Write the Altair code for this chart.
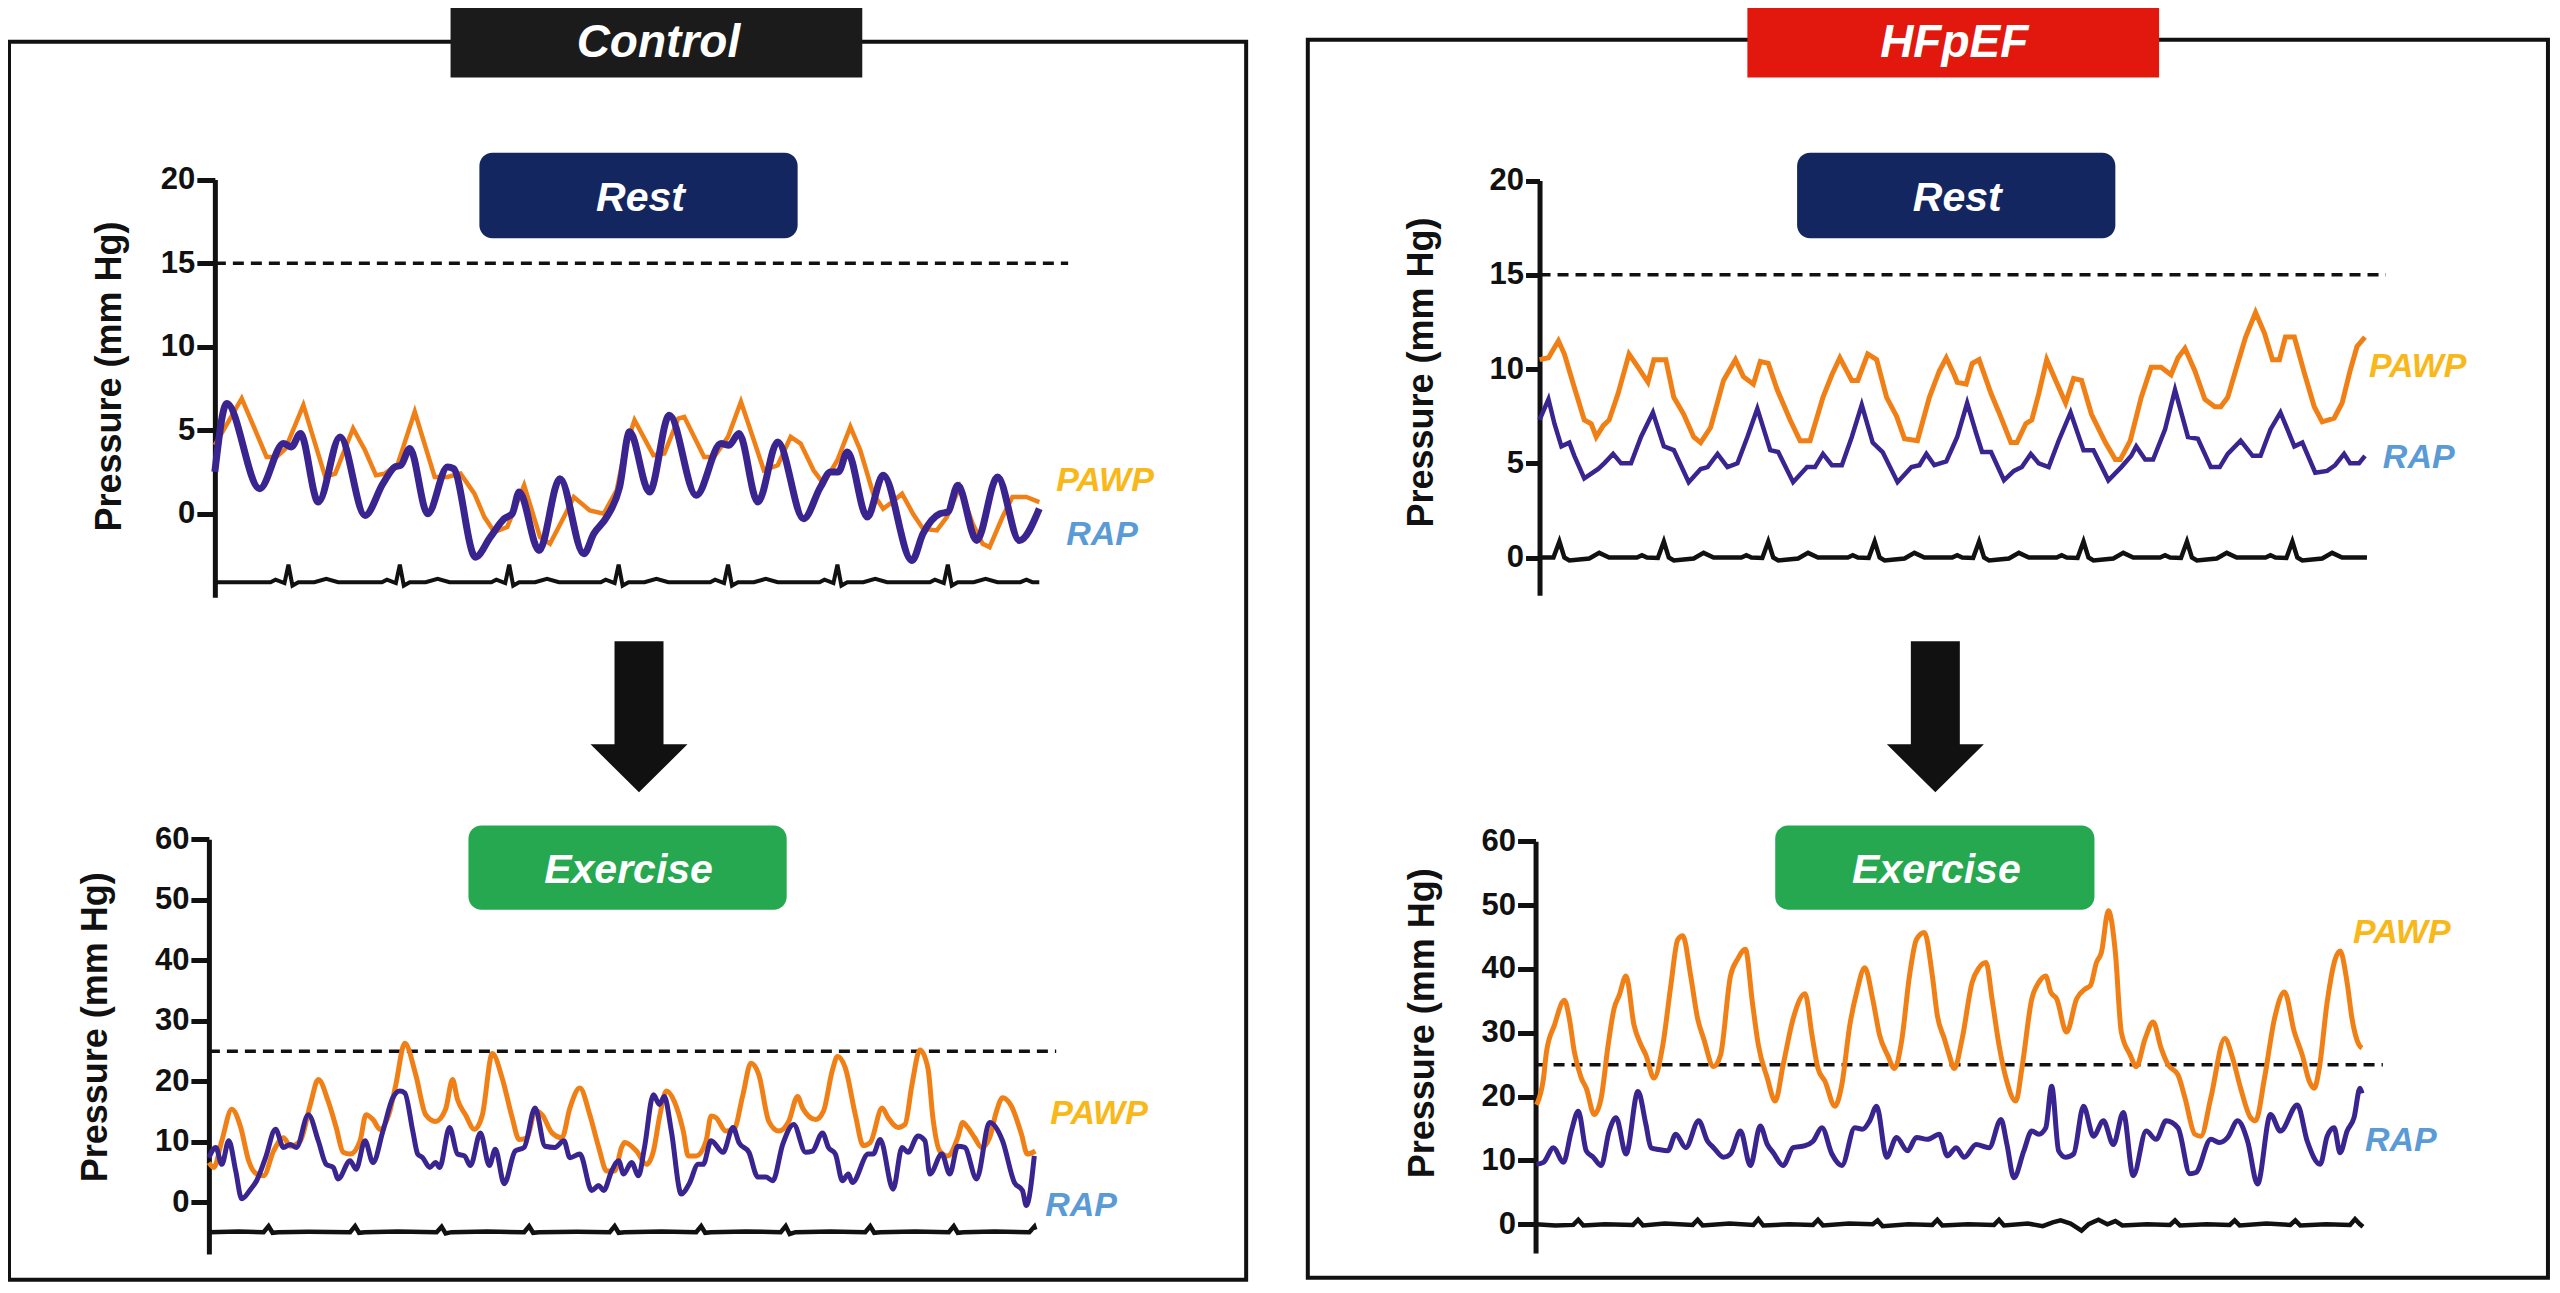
import altair as alt
import pandas as pd

# ---------------- DATA ----------------
# (t, p): t = position along the recording (trace samples), p = pressure in mm Hg

# Control - Rest
CR_PAWP = [(0,4.1),(27,6.9),(52,3.4),(62,3.4),(71,3.9),(89,6.5),(111,2.2),(121,2.4),(139,5.1),(151,3.8),
           (162,2.3),(171,2.4),(184,3.0),(201,6.1),(221,2.2),(234,2.2),(247,2.4),(261,1.2),(271,-0.2),(281,-1.1),
           (294,-0.8),(311,1.7),(327,-1.4),(337,-1.8),(351,-0.2),(361,1.0),(377,0.2),(391,0.0),(404,1.4),(413,4.0),
           (422,5.6),(441,3.5),(452,3.6),(466,5.7),(472,5.8),(492,3.4),(502,3.4),(516,4.6),(529,6.7),(542,4.4),
           (552,2.6),(566,2.9),(579,4.6),(589,4.2),(602,2.6),(612,1.8),(626,3.2),(639,5.2),(649,3.8),(662,1.2),
           (672,0.3),(679,0.6),(691,1.2),(702,0.0),(712,-0.9),(726,-1.0),(736,-0.2),(749,1.6),(762,-0.6),(772,-1.8),
           (779,-2.0),(792,-0.2),(802,1.0),(816,1.0),(829,0.7)]
CR_RAP = [(0,2.5),(12,6.6),(45,1.5),(69,4.2),(77,4.0),(86,4.8),(104,0.7),(126,4.6),(151,-0.1),(169,1.8),
          (181,2.8),(187,2.9),(196,3.9),(214,0.0),(234,2.8),(240,2.7),(262,-2.6),(277,-1.4),(291,-0.3),(299,0.0),
          (306,1.3),(326,-2.2),(347,2.1),(371,-2.4),(381,-1.2),(394,-0.2),(407,1.6),(417,4.9),(437,1.3),(457,5.9),
          (484,1.1),(509,4.2),(517,4.1),(527,4.8),(546,0.7),(566,4.3),(592,-0.3),(609,1.6),(619,2.5),(627,2.5),
          (636,3.7),(656,-0.2),(672,2.3),(701,-2.8),(712,-1.2),(729,0.0),(737,0.1),(747,1.7),(766,-1.6),(787,2.2),
          (809,-1.6),(829,0.3)]
CR_ECG = [(0,-4.1),(56,-4.1),(61,-3.95),(70,-4.15),(74,-3.05),(78,-4.3),(84,-4.1),(100,-4.1),(112,-3.9),(124,-4.1),
          (168,-4.1),(173,-3.95),(182,-4.15),(186,-3.05),(190,-4.3),(196,-4.1),(212,-4.1),(224,-3.9),(236,-4.1),
          (278,-4.1),(283,-3.95),(292,-4.15),(296,-3.05),(300,-4.3),(306,-4.1),(322,-4.1),(334,-3.9),(346,-4.1),
          (388,-4.1),(393,-3.95),(402,-4.15),(406,-3.05),(410,-4.3),(416,-4.1),(432,-4.1),(444,-3.9),(456,-4.1),
          (498,-4.1),(503,-3.95),(512,-4.15),(516,-3.05),(520,-4.3),(526,-4.1),(542,-4.1),(554,-3.9),(566,-4.1),
          (608,-4.1),(613,-3.95),(622,-4.15),(626,-3.05),(630,-4.3),(636,-4.1),(652,-4.1),(664,-3.9),(676,-4.1),
          (719,-4.1),(724,-3.95),(733,-4.15),(737,-3.05),(741,-4.3),(747,-4.1),(763,-4.1),(775,-3.9),(787,-4.1),
          (810,-4.1),(816,-3.95),(822,-4.1),(829,-4.1)]

# Control - Exercise
CE_PAWP = [(0,6.6),(5,5.8),(13,10.2),(23,15.4),(32,12.4),(40,6.9),(48,4.7),(55,4.4),(65,8.5),(75,10.7),
           (82,9.3),(92,10.2),(102,16.2),(110,20.3),(120,16.7),(128,12.4),(135,8.3),(142,8.0),(152,10.2),(158,14.5),
           (165,13.7),(172,12.1),(182,15.1),(188,19.5),(197,26.3),(208,21.1),(218,14.5),(228,13.4),(238,15.4),(245,20.3),
           (250,17.0),(258,14.5),(267,12.1),(275,14.5),(285,24.6),(295,20.5),(305,14.0),(312,10.4),(320,10.7),(328,15.1),
           (335,14.5),(345,11.5),(355,10.7),(363,15.6),(373,18.9),(383,14.5),(392,9.1),(400,5.2),(408,5.2),(415,9.1),
           (418,9.9),(430,8.5),(440,6.3),(447,8.5),(453,14.0),(460,18.4),(468,16.7),(477,11.8),(482,7.7),(490,7.7),
           (500,10.2),(505,14.3),(510,14.0),(520,11.8),(528,12.1),(537,17.8),(545,23.0),(553,21.1),(563,13.4),(573,11.8),
           (583,13.4),(592,17.5),(597,15.6),(610,13.7),(618,15.1),(627,21.9),(632,24.1),(640,22.2),(650,14.5),(658,9.4),
           (665,9.9),(677,15.6),(683,14.0),(693,12.4),(700,12.9),(707,19.5),(715,25.2),(723,22.2),(728,14.0),(735,8.5),
           (743,7.7),(753,10.7),(758,13.2),(763,12.4),(770,10.7),(777,9.1),(785,10.7),(792,15.1),(798,17.3),(807,15.9),
           (817,11.3),(823,8.0),(831,8.5)]
CE_RAP = [(0,7.4),(7,9.1),(13,6.3),(20,10.2),(27,5.2),(33,0.6),(42,2.2),(48,3.6),(57,7.4),(67,12.1),
          (75,9.1),(82,9.6),(88,9.1),(100,14.5),(110,10.2),(118,6.3),(125,5.8),(130,3.9),(142,6.9),(148,5.5),
          (157,10.2),(165,6.6),(175,11.8),(185,17.3),(192,18.4),(197,18.1),(205,11.8),(210,8.0),(215,7.4),(222,5.8),
          (228,6.6),(232,5.8),(242,12.4),(250,8.0),(257,7.7),(263,6.1),(273,11.5),(282,6.1),(288,8.8),(297,3.1),
          (308,8.5),(317,9.1),(328,15.6),(338,9.3),(348,9.1),(357,10.2),(363,7.4),(373,8.0),(385,2.0),(392,2.8),
          (397,2.0),(405,5.2),(412,6.9),(417,4.7),(425,6.6),(432,4.4),(438,9.1),(447,17.8),(453,16.2),(458,17.5),
          (465,11.8),(475,1.4),(483,3.1),(492,6.3),(497,6.3),(505,10.2),(517,8.3),(527,12.4),(533,9.9),(543,8.3),
          (552,4.2),(560,4.2),(567,3.6),(577,9.6),(588,12.9),(600,8.3),(607,8.5),(617,11.5),(623,9.1),(630,8.0),
          (637,3.6),(643,4.7),(647,3.3),(663,8.0),(668,8.0),(675,10.4),(688,2.2),(697,9.1),(703,8.3),(713,11.0),
          (720,10.2),(725,4.7),(737,8.0),(745,4.7),(753,9.3),(760,9.1),(772,3.9),(785,13.2),(798,10.2),(810,3.3),
          (818,2.0),(822,-0.5),(830,7.7)]
CE_ECG = [(0,-4.9),(30,-4.8),(55,-4.9),(60,-3.9),(64,-5.0),(70,-4.9),(100,-4.85),(142,-4.9),(147,-3.9),(151,-5.0),
          (157,-4.9),(190,-4.8),(229,-4.9),(234,-4.0),(238,-5.1),(244,-4.9),(280,-4.8),(317,-4.9),(322,-3.9),(326,-5.0),
          (332,-4.9),(370,-4.85),(403,-4.9),(408,-3.9),(412,-5.0),(418,-4.9),(455,-4.8),(490,-4.9),(495,-3.9),(499,-5.0),
          (505,-4.9),(540,-4.8),(575,-4.9),(580,-3.9),(584,-5.2),(590,-4.9),(625,-4.8),(660,-4.9),(665,-3.9),(669,-5.0),
          (675,-4.9),(710,-4.8),(744,-4.9),(749,-3.9),(753,-5.0),(759,-4.9),(790,-4.8),(825,-4.9),(830,-4.0),(831,-4.5)]

# HFpEF - Rest
HR_PAWP = [(0,10.5),(9,10.6),(19,11.5),(25,10.8),(34,9.2),(45,7.3),(52,7.1),(57,6.4),(64,7.0),(70,7.3),
           (79,8.7),(90,10.8),(99,10.1),(109,9.3),(115,10.5),(127,10.5),(135,8.5),(145,7.6),(155,6.4),(162,6.1),
           (172,6.9),(185,9.4),(197,10.5),(205,9.6),(215,9.2),(222,10.4),(230,10.3),(239,8.9),(252,7.3),(262,6.2),
           (272,6.2),(285,8.5),(294,9.7),(302,10.6),(314,9.4),(320,9.4),(330,10.8),(339,10.5),(349,8.5),(359,7.5),
           (367,6.3),(380,6.2),(392,8.5),(402,9.9),(409,10.6),(417,9.7),(420,9.3),(429,9.2),(435,10.3),(442,10.5),
           (454,8.7),(462,7.7),(474,6.1),(480,6.1),(489,7.1),(495,7.3),(502,8.7),(510,10.5),(519,9.4),(529,8.2),
           (537,9.5),(545,9.4),(555,7.6),(569,6.1),(579,5.2),(584,5.2),(594,6.2),(605,8.5),(615,10.1),(625,10.1),
           (635,9.7),(642,10.6),(649,11.1),(659,9.9),(669,8.4),(679,8.0),(685,8.0),(692,8.5),(702,10.3),(710,11.7),
           (720,13.0),(729,11.9),(737,10.5),(744,10.5),(750,11.7),(759,11.7),(769,9.8),(779,8.0),(787,7.2),(799,7.4),
           (807,8.2),(815,9.9),(822,11.2),(830,11.7)]
HR_RAP = [(0,7.3),(9,8.4),(15,7.1),(22,5.9),(30,6.1),(35,5.4),(45,4.2),(59,4.7),(65,5.0),(74,5.5),
          (82,5.0),(92,5.0),(102,6.4),(114,7.7),(125,5.9),(135,5.7),(150,4.0),(162,4.7),(169,4.8),(179,5.5),
          (189,4.8),(199,5.0),(209,6.4),(219,7.9),(232,5.7),(240,5.6),(255,4.0),(269,4.8),(277,4.8),(285,5.5),
          (294,4.9),(304,4.9),(314,6.4),(324,8.1),(335,6.1),(345,5.6),(360,4.0),(374,4.8),(382,4.9),(389,5.5),
          (397,4.9),(409,5.1),(420,6.4),(430,8.2),(439,6.6),(445,5.6),(454,5.6),(467,4.1),(477,4.6),(485,4.8),
          (494,5.5),(502,5.0),(512,4.8),(522,6.2),(534,7.7),(547,5.7),(557,5.7),(572,4.1),(585,4.8),(595,5.4),
          (600,5.9),(609,5.2),(617,5.2),(629,6.8),(639,8.9),(652,6.4),(662,6.3),(675,4.8),(684,4.8),(692,5.5),
          (705,6.2),(717,5.4),(725,5.4),(735,6.8),(745,7.7),(759,5.9),(767,6.1),(780,4.5),(792,4.6),(800,4.9),
          (809,5.5),(815,5.0),(824,5.0),(830,5.4)]
HR_ECG = [(0,0.0),(14,0.0),(20,0.85),(25,0.0),(30,-0.15),(50,-0.05),(60,0.25),(70,0.0),
          (98,0.0),(103,0.12),(108,0.0),(119,-0.02),(125,0.85),(130,0.0),(135,-0.15),(155,-0.05),(165,0.25),(175,0.0),
          (203,0.0),(208,0.12),(213,0.0),(224,-0.02),(230,0.85),(235,0.0),(240,-0.15),(260,-0.05),(270,0.25),(280,0.0),
          (310,0.0),(315,0.12),(320,0.0),(331,-0.02),(337,0.85),(342,0.0),(347,-0.15),(367,-0.05),(377,0.25),(387,0.0),
          (415,0.0),(420,0.12),(425,0.0),(436,-0.02),(442,0.85),(447,0.0),(452,-0.15),(472,-0.05),(482,0.25),(492,0.0),
          (520,0.0),(525,0.12),(530,0.0),(541,-0.02),(547,0.85),(552,0.0),(557,-0.15),(577,-0.05),(587,0.25),(597,0.0),
          (624,0.0),(629,0.12),(634,0.0),(645,-0.02),(651,0.85),(656,0.0),(661,-0.15),(681,-0.05),(691,0.25),(701,0.0),
          (730,0.0),(735,0.12),(740,0.0),(751,-0.02),(757,0.85),(762,0.0),(767,-0.15),(787,-0.05),(797,0.25),(807,0.0),
          (832,0.0)]

# HFpEF - Exercise
HE_PAWP = [(1,18.7),(8,22.9),(11,27.0),(19,31.2),(29,35.1),(34,32.2),(39,27.0),(46,22.9),(51,21.3),(59,17.2),
           (66,19.8),(73,28.1),(79,33.8),(84,35.8),(91,38.9),(99,31.2),(106,28.1),(111,26.5),(119,22.9),(128,28.1),
           (136,37.4),(143,44.6),(148,45.2),(156,38.9),(163,32.2),(169,29.1),(179,24.7),(186,26.5),(196,38.9),(203,41.5),
           (211,43.1),(218,34.8),(224,28.1),(233,22.9),(241,19.3),(249,25.0),(259,32.2),(271,36.1),(278,29.6),(284,24.4),
           (291,22.4),(301,18.5),(308,21.9),(316,31.2),(323,36.4),(331,40.2),(339,35.3),(346,29.6),(354,26.5),(361,24.4),
           (368,28.6),(376,38.9),(383,44.6),(391,45.7),(399,38.9),(404,32.7),(411,29.1),(416,26.5),(421,24.4),(429,29.1),
           (439,37.9),(446,40.2),(453,41.0),(459,35.3),(466,28.1),(473,22.9),(483,19.3),(489,24.4),(499,35.3),(506,37.9),
           (513,38.9),(518,36.4),(524,35.3),(534,30.1),(544,35.3),(553,36.9),(558,37.4),(564,41.0),(569,42.6),(576,49.1),
           (583,42.6),(589,30.1),(598,26.5),(604,24.7),(613,29.1),(621,31.7),(629,27.6),(636,25.0),(646,23.4),(653,19.8),
           (663,14.1),(669,13.8),(679,19.8),(693,29.1),(701,26.0),(709,21.3),(719,16.7),(724,16.2),(733,22.9),(743,32.2),
           (753,36.4),(763,30.1),(771,26.5),(778,22.4),(783,21.3),(788,24.4),(796,34.8),(804,41.5),(809,42.8),(816,37.9),
           (821,32.2),(828,28.1),(831,27.6)]
HE_RAP = [(1,9.4),(8,9.7),(18,12.0),(28,9.7),(36,14.6),(43,17.7),(51,11.5),(58,10.5),(66,9.2),(74,14.6),
          (81,16.7),(91,11.0),(103,20.8),(111,15.6),(116,12.0),(124,11.7),(133,11.5),(141,14.1),(151,12.0),(164,16.2),
          (173,13.0),(179,12.0),(189,10.5),(196,11.0),(206,14.6),(216,9.2),(226,15.4),(233,12.5),(239,11.2),(249,9.2),
          (259,12.0),(271,12.3),(279,13.0),(288,15.1),(298,11.0),(308,9.2),(321,15.1),(329,14.9),(336,16.2),(343,18.5),
          (353,10.5),(363,13.6),(374,11.5),(383,13.6),(394,13.3),(406,14.1),(414,10.7),(423,12.0),(431,10.5),(443,12.5),
          (456,12.0),(468,16.4),(474,12.5),(481,7.3),(491,11.5),(499,14.6),(506,14.1),(513,15.1),(519,21.6),(526,11.5),
          (533,10.5),(541,11.0),(551,18.5),(561,13.8),(571,16.2),(581,12.5),(591,17.5),(601,7.6),(614,14.6),(624,13.3),
          (634,16.2),(646,15.1),(658,7.9),(664,8.1),(679,13.3),(688,12.8),(696,13.6),(706,16.2),(716,13.0),(726,6.3),
          (739,17.2),(749,14.6),(766,18.7),(776,13.0),(789,9.4),(796,13.8),(803,15.1),(809,11.2),(816,14.6),(823,16.7),
          (829,21.3),(831,20.5)]
HE_ECG = [(0,0.0),(20,-0.2),(38,-0.1),(43,0.7),(48,-0.2),(70,0.0),(98,-0.1),(103,0.7),(108,-0.2),(130,0.1),
          (158,-0.1),(163,0.7),(168,-0.2),(195,0.1),(219,-0.1),(224,0.8),(229,-0.2),(255,0.0),(279,-0.1),(284,0.7),
          (289,-0.2),(315,0.1),(339,0.0),(344,0.6),(349,-0.3),(375,0.0),(399,-0.1),(404,0.7),(409,-0.2),(435,0.0),
          (461,-0.1),(466,0.7),(471,-0.2),(495,0.1),(510,-0.3),(520,0.3),(528,0.6),(538,0.1),(549,-1.0),(556,0.0),
          (566,0.7),(575,0.0),(583,0.5),(590,-0.2),(615,0.0),(638,-0.1),(643,0.6),(648,-0.2),(675,0.0),(698,-0.1),
          (703,0.6),(708,-0.2),(735,0.1),(759,-0.1),(764,0.6),(769,-0.2),(795,0.0),(819,-0.1),(824,0.8),(829,0.0),
          (832,-0.4)]

# reference lines (mm Hg) and tick values
REST_LIMIT = 15
EXERCISE_LIMIT = 25
REST_TICKS = [0, 5, 10, 15, 20]
EXERCISE_TICKS = [0, 10, 20, 30, 40, 50, 60]

# ---------------- LAYOUT / STYLE ----------------
SX, SY = 0.9945, 0.992
W, H = 2543, 1275


def cx(X):
    return (X - 3) * SX


def cy(Y):
    return (Y - 8) * SY


FONT = "Liberation Sans, Arial, Helvetica, sans-serif"
ORANGE = "#F08016"
PURPLE = "#3A2590"
INK = "#111111"


def pairs_df(pairs):
    return pd.DataFrame(pairs, columns=["t", "p"])


def panel(cfg, pawp, rap, ecg, limit, ticks):
    xs = alt.Scale(domain=[0, cfg["tend"]], range=[cx(cfg["x0"]), cx(cfg["x0"] + cfg["tend"])],
                   nice=False, zero=False)
    ys = alt.Scale(domain=cfg["dom"], range=[cy(cfg["ybot"]), cy(cfg["ytop"])], nice=False, zero=False)
    ax = alt.Axis(orient="left", offset=-cx(cfg["xaxis"]), values=ticks, grid=False,
                  domainWidth=5, domainColor=INK, tickWidth=5, tickColor=INK, tickSize=cfg["tick"],
                  labelFont=FONT, labelFontSize=31, labelFontWeight="bold", labelColor=INK, labelPadding=2,
                  title="Pressure (mm Hg)", titleFont=FONT, titleFontSize=36, titleFontWeight="bold",
                  titleColor=INK, titleAngle=270, titleBaseline="middle",
                  titleX=(cfg["tx"] - cfg["xaxis"]) * SX, titleY=cy(cfg["ty"]))
    X = alt.X("t:Q", scale=xs, axis=None)
    Y = alt.Y("p:Q", scale=ys, axis=ax)

    ecg_l = alt.Chart(pairs_df(ecg)).mark_line(color=INK, strokeWidth=cfg["ecg_w"]).encode(x=X, y=Y)
    pawp_l = alt.Chart(pairs_df(pawp)).mark_line(color=ORANGE, strokeWidth=cfg["pawp_w"],
                                                  interpolate=cfg["pawp_i"]).encode(x=X, y=Y)
    rap_l = alt.Chart(pairs_df(rap)).mark_line(color=PURPLE, strokeWidth=cfg["rap_w"],
                                                interpolate=cfg["rap_i"]).encode(x=X, y=Y)
    dash = alt.Chart(pd.DataFrame({"t": [0], "t2": [cfg["dash_end"]], "p": [limit]})).mark_rule(
        color=INK, strokeWidth=3.5, strokeDash=[11, 7]).encode(x=X, x2="t2:Q", y=Y)
    lab_df = pd.DataFrame({"t": [cfg["lab_pawp"][0], cfg["lab_rap"][0]],
                           "p": [cfg["lab_pawp"][1], cfg["lab_rap"][1]],
                           "name": ["PAWP", "RAP"]})
    labels = alt.Chart(lab_df).mark_text(font=FONT, fontSize=34, fontWeight="bold", fontStyle="italic",
                                         align="left", baseline="middle").encode(
        x=X, y=Y, text="name:N",
        color=alt.Color("name:N", scale=alt.Scale(domain=["PAWP", "RAP"], range=["#F9B81A", "#5B9BD5"]),
                        legend=None))
    return alt.layer(dash, ecg_l, pawp_l, rap_l, labels)


CR_CFG = dict(x0=211, tend=829, xaxis=211, dom=[-5, 20], ybot=602, ytop=181, tick=18, tx=105, ty=379,
              dash_end=858, ecg_w=4, pawp_w=4.5, rap_w=7, pawp_i="linear", rap_i="monotone",
              lab_pawp=(846, 1.95), lab_rap=(856, -1.26))
CE_CFG = dict(x0=205, tend=831, xaxis=205, dom=[-8.5, 60], ybot=1264, ytop=846, tick=18, tx=90.5, ty=1035,
              dash_end=852, ecg_w=4.5, pawp_w=5, rap_w=5, pawp_i="monotone", rap_i="monotone",
              lab_pawp=(846, 14.6), lab_rap=(841, -0.5))
HR_CFG = dict(x0=1543, tend=832, xaxis=1543, dom=[-2, 20], ybot=600, ytop=182, tick=14, tx=1424.5, ty=375,
              dash_end=851, ecg_w=4.5, pawp_w=5, rap_w=4.5, pawp_i="linear", rap_i="linear",
              lab_pawp=(834, 10.1), lab_rap=(848, 5.26))
HE_CFG = dict(x0=1539, tend=832, xaxis=1539, dom=[-4.5, 60], ybot=1263, ytop=848, tick=18, tx=1425.5, ty=1031,
              dash_end=852, ecg_w=4.5, pawp_w=5, rap_w=5, pawp_i="monotone", rap_i="monotone",
              lab_pawp=(822, 45.7), lab_rap=(834, 13.1))

ONE = pd.DataFrame({"k": [0]})


def box(x1, x2, y1, y2, fill, radius=0):
    return alt.Chart(ONE).mark_rect(fill=fill, cornerRadius=radius).encode(
        x=alt.value(cx(x1)), x2=alt.value(cx(x2)), y=alt.value(cy(y1)), y2=alt.value(cy(y2)))


def frame(x1, x2, y1, y2):
    return alt.Chart(ONE).mark_rect(fillOpacity=0, stroke=INK, strokeWidth=4).encode(
        x=alt.value(cx(x1)), x2=alt.value(cx(x2)), y=alt.value(cy(y1)), y2=alt.value(cy(y2)))


def label(text, x, ybase, size):
    return alt.Chart(ONE).mark_text(text=text, font=FONT, fontSize=size, fontWeight="bold", fontStyle="italic",
                                    color="white", align="center", baseline="alphabetic").encode(
        x=alt.value(cx(x)), y=alt.value(cy(ybase)))


ARROW = "M -0.505 -1.557 L 0.505 -1.557 L 0.505 0.567 L 1 0.567 L 0 1.557 L -1 0.567 L -0.505 0.567 Z"


def arrow(x, y):
    return alt.Chart(ONE).mark_point(shape=ARROW, size=9409, filled=True, color=INK, opacity=1,
                                     strokeWidth=0).encode(x=alt.value(cx(x)), y=alt.value(cy(y)))


deco = [
    frame(4, 1248, 42, 1290),
    frame(1310, 2557, 40, 1288),
    box(448, 862, -10, 78, "#1B1B1B"),
    box(1752, 2166, -10, 78, "#E2180E"),
    label("Control", 657, 57, 46),
    label("HFpEF", 1960, 57, 46),
    box(477, 797, 154, 240, "#13265F", 13),
    box(1802, 2122, 154, 240, "#13265F", 13),
    label("Rest", 639, 213, 41),
    label("Rest", 1963, 213, 41),
    box(466, 786, 832, 917, "#25A84F", 13),
    box(1780, 2101, 832, 917, "#25A84F", 13),
    label("Exercise", 627, 890, 41),
    label("Exercise", 1942, 890, 41),
    arrow(637.5, 722.5),
    arrow(1941, 722.5),
]

panels = [
    panel(CR_CFG, CR_PAWP, CR_RAP, CR_ECG, REST_LIMIT, REST_TICKS),
    panel(CE_CFG, CE_PAWP, CE_RAP, CE_ECG, EXERCISE_LIMIT, EXERCISE_TICKS),
    panel(HR_CFG, HR_PAWP, HR_RAP, HR_ECG, REST_LIMIT, REST_TICKS),
    panel(HE_CFG, HE_PAWP, HE_RAP, HE_ECG, EXERCISE_LIMIT, EXERCISE_TICKS),
]

chart = alt.layer(*deco, *panels).resolve_scale(
    x="independent", y="independent", color="independent"
).properties(
    width=W, height=H, padding=0, autosize=alt.AutoSizeParams(type="none"), background="white"
).configure_view(stroke=None)

chart.save("out.html", embed_options={"renderer": "svg", "actions": False})
